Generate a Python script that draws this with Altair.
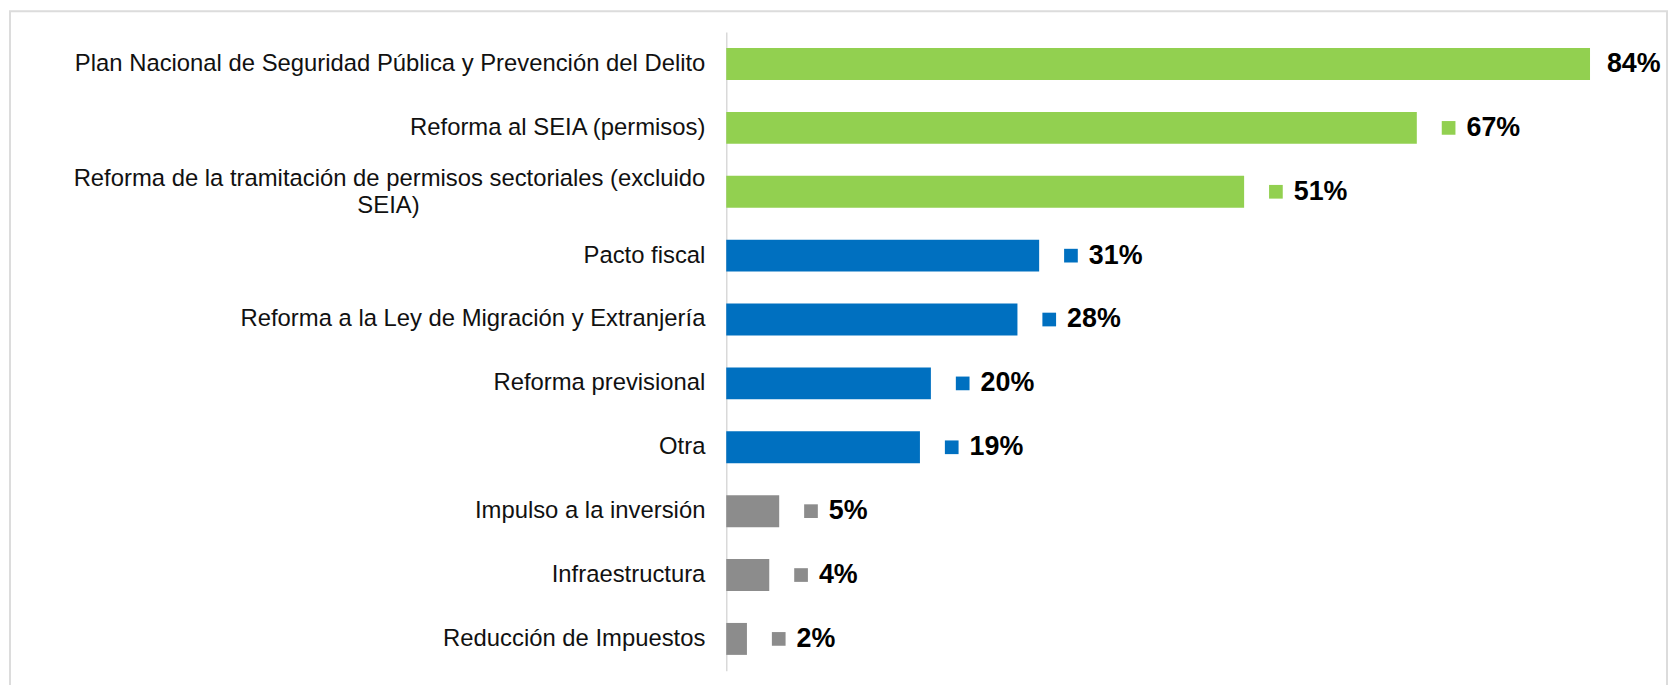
import altair as alt
import pandas as pd

categories = [
    "Plan Nacional de Seguridad Pública y Prevención del Delito",
    "Reforma al SEIA (permisos)",
    "Reforma de la tramitación de permisos sectoriales (excluido SEIA)",
    "Pacto fiscal",
    "Reforma a la Ley de Migración y Extranjería",
    "Reforma previsional",
    "Otra",
    "Impulso a la inversión",
    "Infraestructura",
    "Reducción de Impuestos",
]
# first and second line of each category label ("" = no second line)
label_line1 = [
    "Plan Nacional de Seguridad Pública y Prevención del Delito",
    "Reforma al SEIA (permisos)",
    "Reforma de la tramitación de permisos sectoriales (excluido",
    "Pacto fiscal",
    "Reforma a la Ley de Migración y Extranjería",
    "Reforma previsional",
    "Otra",
    "Impulso a la inversión",
    "Infraestructura",
    "Reducción de Impuestos",
]
label_line2 = ["", "", "SEIA)", "", "", "", "", "", "", ""]
values = [84.33, 67.42, 50.56, 30.55, 28.43, 19.98, 18.91, 5.17, 4.20, 2.02]
value_labels = ["84%", "67%", "51%", "31%", "28%", "20%", "19%", "5%", "4%", "2%"]
bar_colors = ["#92D050", "#92D050", "#92D050",
              "#0070C0", "#0070C0", "#0070C0", "#0070C0",
              "#8C8C8C", "#8C8C8C", "#8C8C8C"]
has_marker = [False, True, True, True, True, True, True, True, True, True]

df = pd.DataFrame({
    "cat": categories,
    "line1": label_line1,
    "line2": label_line2,
    "value": values,
    "label": value_labels,
    "color": bar_colors,
    "marker": has_marker,
})

FONT = "Arial, Liberation Sans, sans-serif"

y_enc = alt.Y(
    "cat:N",
    sort=categories,
    scale=alt.Scale(paddingInner=0.5, paddingOuter=0.25),
    axis=alt.Axis(labels=False, ticks=False, title=None, grid=False,
                  domainColor="#d9d9d9", domainWidth=1.5),
)
x_enc = alt.X("value:Q", scale=alt.Scale(domain=[0, 91.75], nice=False), axis=None)

base = alt.Chart(df)

bars = base.mark_bar().encode(
    x=x_enc, y=y_enc, color=alt.Color("color:N", scale=None)
)

squares = base.transform_filter("datum.marker").mark_square(
    size=190, opacity=1, xOffset=32
).encode(x=x_enc, y=y_enc, color=alt.Color("color:N", scale=None))

labels_m = base.transform_filter("datum.marker").mark_text(
    align="left", baseline="middle", dx=50, fontSize=27, fontWeight="bold",
    font=FONT, color="#000000"
).encode(x=x_enc, y=y_enc, text="label:N")

labels_n = base.transform_filter("!datum.marker").mark_text(
    align="left", baseline="middle", dx=17, fontSize=27, fontWeight="bold",
    font=FONT, color="#000000"
).encode(x=x_enc, y=y_enc, text="label:N")

cat_single = base.transform_filter("datum.line2 == ''").mark_text(
    align="right", baseline="middle", fontSize=24, font=FONT, color="#111111"
).encode(x=alt.value(-21), y=y_enc, text="line1:N")

cat_multi1 = base.transform_filter("datum.line2 != ''").mark_text(
    align="right", baseline="middle", fontSize=24, font=FONT, color="#111111",
    dy=-13
).encode(x=alt.value(-21), y=y_enc, text="line1:N")

cat_multi2 = base.transform_filter("datum.line2 != ''").mark_text(
    align="center", baseline="middle", fontSize=24, font=FONT, color="#111111",
    dy=14
).encode(x=alt.value(-340), y=y_enc, text="line2:N")

frame = alt.Chart(pd.DataFrame({"f": [0]})).mark_rect(
    filled=False, stroke="#dcdcdc", strokeWidth=2
).encode(
    x=alt.value(-721), x2=alt.value(947), y=alt.value(-21), y2=alt.value(720)
)

chart = alt.layer(
    frame, bars, squares, labels_m, labels_n, cat_single, cat_multi1, cat_multi2
).properties(
    width=946,
    height=643,
    padding={"left": 723, "top": 22, "right": 3, "bottom": 12},
    autosize=alt.AutoSizeParams(type="none"),
).configure_view(stroke=None)

chart.save("out.html", embed_options={"renderer": "svg", "actions": False})
